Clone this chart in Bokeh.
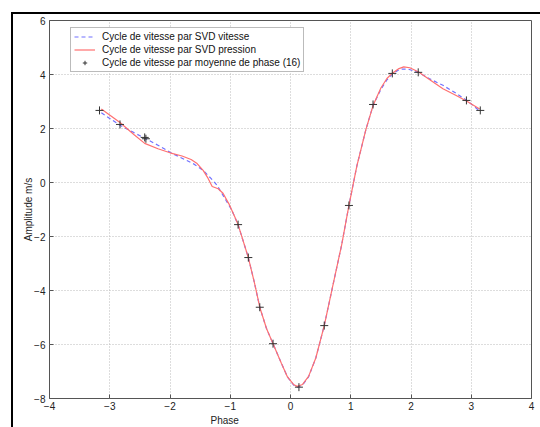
from bokeh.plotting import figure
from bokeh.models import (Range1d, FixedTicker, Legend, LegendItem, Title, InlineStyleSheet)
from bokeh.embed import file_html
from bokeh.resources import INLINE

# SVD vitesse (blue dashed)
vit_x = [-3.14, -2.83, -2.6, -2.4, -2.2, -2.0, -1.8, -1.6, -1.45, -1.32, -1.22, -1.1,
         -0.98, -0.87, -0.7, -0.6, -0.51, -0.4, -0.29, -0.15, -0.05, 0.05, 0.11, 0.2,
         0.3, 0.42, 0.56, 0.7, 0.85, 0.97, 1.1, 1.25, 1.37, 1.5, 1.6, 1.69, 1.78, 1.85,
         1.95, 2.12, 2.3, 2.53, 2.75, 2.92, 3.14]
vit_y = [2.58, 2.12, 1.85, 1.62, 1.38, 1.12, 0.9, 0.68, 0.45, 0.15, -0.1, -0.55,
         -1.0, -1.56, -2.78, -3.7, -4.62, -5.4, -5.97, -6.7, -7.2, -7.5, -7.58, -7.5,
         -7.2, -6.5, -5.3, -3.85, -2.3, -0.85, 0.6, 1.95, 2.85, 3.45, 3.8, 4.02, 4.15,
         4.2, 4.2, 4.08, 3.85, 3.6, 3.3, 3.05, 2.65]

# SVD pression (red solid)
pre_x = [-3.14, -2.83, -2.6, -2.42, -2.2, -2.0, -1.8, -1.65, -1.55, -1.45, -1.38, -1.3,
         -1.2, -1.12, -1.02, -0.92, -0.87, -0.7, -0.6, -0.51, -0.4, -0.29, -0.15, -0.05,
         0.05, 0.11, 0.2, 0.3, 0.42, 0.56, 0.7, 0.85, 0.97, 1.1, 1.25, 1.37, 1.5, 1.6,
         1.69, 1.8, 1.88, 1.98, 2.12, 2.3, 2.53, 2.75, 2.92, 3.14]
pre_y = [2.72, 2.22, 1.78, 1.45, 1.25, 1.1, 0.98, 0.85, 0.7, 0.45, 0.2, -0.15,
         -0.23, -0.4, -0.8, -1.3, -1.56, -2.78, -3.7, -4.62, -5.4, -5.97, -6.7, -7.2,
         -7.48, -7.55, -7.48, -7.18, -6.5, -5.3, -3.85, -2.3, -0.85, 0.6, 1.95, 2.85, 3.5, 3.85,
         4.05, 4.22, 4.28, 4.25, 4.1, 3.82, 3.47, 3.22, 3.02, 2.72]

# Moyenne de phase (16)
moy_x = [-3.17, -2.83, -2.42, -2.40, -0.87, -0.70, -0.51, -0.29, 0.14, 0.56, 0.97,
         1.37, 1.69, 2.12, 2.92, 3.15]
moy_y = [2.67, 2.15, 1.67, 1.62, -1.56, -2.78, -4.62, -5.97, -7.58, -5.30, -0.85,
         2.89, 4.04, 4.08, 3.04, 2.67]

x_ticks = [-4, -3, -2, -1, 0, 1, 2, 3, 4]
y_ticks = [-8, -6, -4, -2, 0, 2, 4, 6]

FONT = "Liberation Sans"
W, H = 540, 427

p = figure(width=W, height=H, output_backend="svg", toolbar_location=None,
           x_range=Range1d(-4, 4), y_range=Range1d(-8, 6),
           min_border_left=49, min_border_right=9, min_border_top=20, min_border_bottom=29)
p.background_fill_color = "white"
p.border_fill_color = "white"
p.outline_line_color = "#555555"
p.outline_line_width = 1

for ax, ticks in ((p.xaxis, x_ticks), (p.yaxis, y_ticks)):
    ax.ticker = FixedTicker(ticks=ticks)
    ax.axis_line_color = None
    ax.major_tick_in = 4
    ax.major_tick_out = 0
    ax.minor_tick_line_color = None
    ax.major_tick_line_color = "#555555"
    ax.major_label_text_font = FONT
    ax.major_label_text_font_size = "10px"
    ax.major_label_text_color = "#222222"
p.yaxis.major_label_standoff = 4
p.xaxis.major_label_standoff = 3

p.yaxis.axis_label = "Amplitude m/s"
p.yaxis.axis_label_text_font = FONT
p.yaxis.axis_label_text_font_size = "10px"
p.yaxis.axis_label_text_font_style = "normal"
p.yaxis.axis_label_text_color = "#222222"
p.yaxis.axis_label_standoff = -3

phase_title = Title(text="Phase", align="left", offset=161, standoff=0,
                    text_font=FONT, text_font_size="10px", text_font_style="normal",
                    text_color="#222222")
p.add_layout(phase_title, "below")

p.xgrid.ticker = FixedTicker(ticks=x_ticks)
p.ygrid.ticker = FixedTicker(ticks=y_ticks)
for g in (p.xgrid, p.ygrid):
    g.grid_line_color = "#bbbbbb"
    g.grid_line_dash = "1 2"
    g.grid_line_width = 1

r_vit = p.line(vit_x, vit_y, line_color="#7070ff", line_width=1.2, line_dash="4 3")
r_pre = p.line(pre_x, pre_y, line_color="#ff7070", line_width=1.2)
r_moy = p.scatter(moy_x, moy_y, marker="cross", size=8, line_color="#333333", line_width=1)

legend = Legend(items=[
    LegendItem(label="Cycle de vitesse par SVD vitesse", renderers=[r_vit]),
    LegendItem(label="Cycle de vitesse par SVD pression", renderers=[r_pre]),
    LegendItem(label="Cycle de vitesse par moyenne de phase (16)", renderers=[r_moy]),
], location=(21, 326))
legend.label_text_font = FONT
legend.label_text_font_size = "10px"
legend.label_text_color = "#111111"
legend.label_height = 11
legend.glyph_height = 11
legend.glyph_width = 21
legend.label_standoff = 7
legend.spacing = 2
legend.padding = 3
legend.margin = 0
legend.border_line_color = "#777777"
legend.border_line_width = 1
legend.background_fill_alpha = 1
p.add_layout(legend)

# black frame lines of the original figure window (drawn with CSS)
p.stylesheets = [InlineStyleSheet(css="""
:host::before { content: ""; position: absolute; left: 11px; top: 12px; width: 2px;
                height: 415px; background: black; z-index: 10; pointer-events: none; }
:host::after  { content: ""; position: absolute; left: 11px; top: 12px; width: 529px;
                height: 2px; background: black; z-index: 10; pointer-events: none; }
""")]

open("out.html", "w").write(file_html(p, INLINE))
